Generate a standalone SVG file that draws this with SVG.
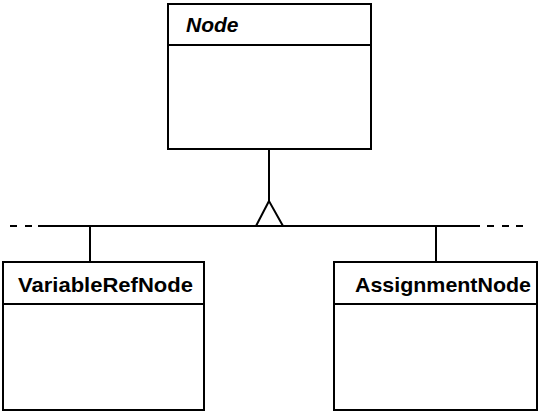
<svg xmlns="http://www.w3.org/2000/svg" width="540" height="413" viewBox="0 0 540 413">
<style>
.box{fill:#fff;stroke:#000;stroke-width:2}
.div{stroke:#000;stroke-width:2}
.lbl{font-family:"Liberation Sans",Arial,sans-serif;font-weight:bold;font-size:21px;fill:#000}
.conn{stroke:#000;stroke-width:2;fill:none}
</style>
<rect width="540" height="413" fill="#fff"/>
<g id="connectors">
<line class="conn" x1="269" y1="149" x2="269" y2="201"/>
<polygon class="conn" points="269,201 256,226 283,226" fill="#fff"/>
<line class="conn" x1="38" y1="226" x2="460" y2="226"/>
<line class="conn" x1="460" y1="226" x2="480" y2="226" stroke="#777"/>
<path class="conn" d="M10,226H17M25,226H32"/>
<path class="conn" d="M487,226H494M502,226H509M516,226H523"/>
<line class="conn" x1="90" y1="226" x2="90" y2="262"/>
<line class="conn" x1="436" y1="226" x2="436" y2="262"/>
</g>
<g id="node-Node">
<rect class="box" x="168" y="4" width="203" height="145"/>
<line class="div" x1="168" y1="45" x2="371" y2="45"/>
<text class="lbl" x="186" y="32" font-style="italic">Node</text>
</g>
<g id="node-VariableRefNode">
<rect class="box" x="3" y="262" width="201" height="148"/>
<line class="div" x1="3" y1="304" x2="204" y2="304"/>
<text class="lbl" x="18" y="292" textLength="175" lengthAdjust="spacingAndGlyphs">VariableRefNode</text>
</g>
<g id="node-AssignmentNode">
<rect class="box" x="334" y="262" width="203" height="148"/>
<line class="div" x1="334" y1="304" x2="537" y2="304"/>
<text class="lbl" x="355" y="292" textLength="176" lengthAdjust="spacingAndGlyphs">AssignmentNode</text>
</g>
</svg>
